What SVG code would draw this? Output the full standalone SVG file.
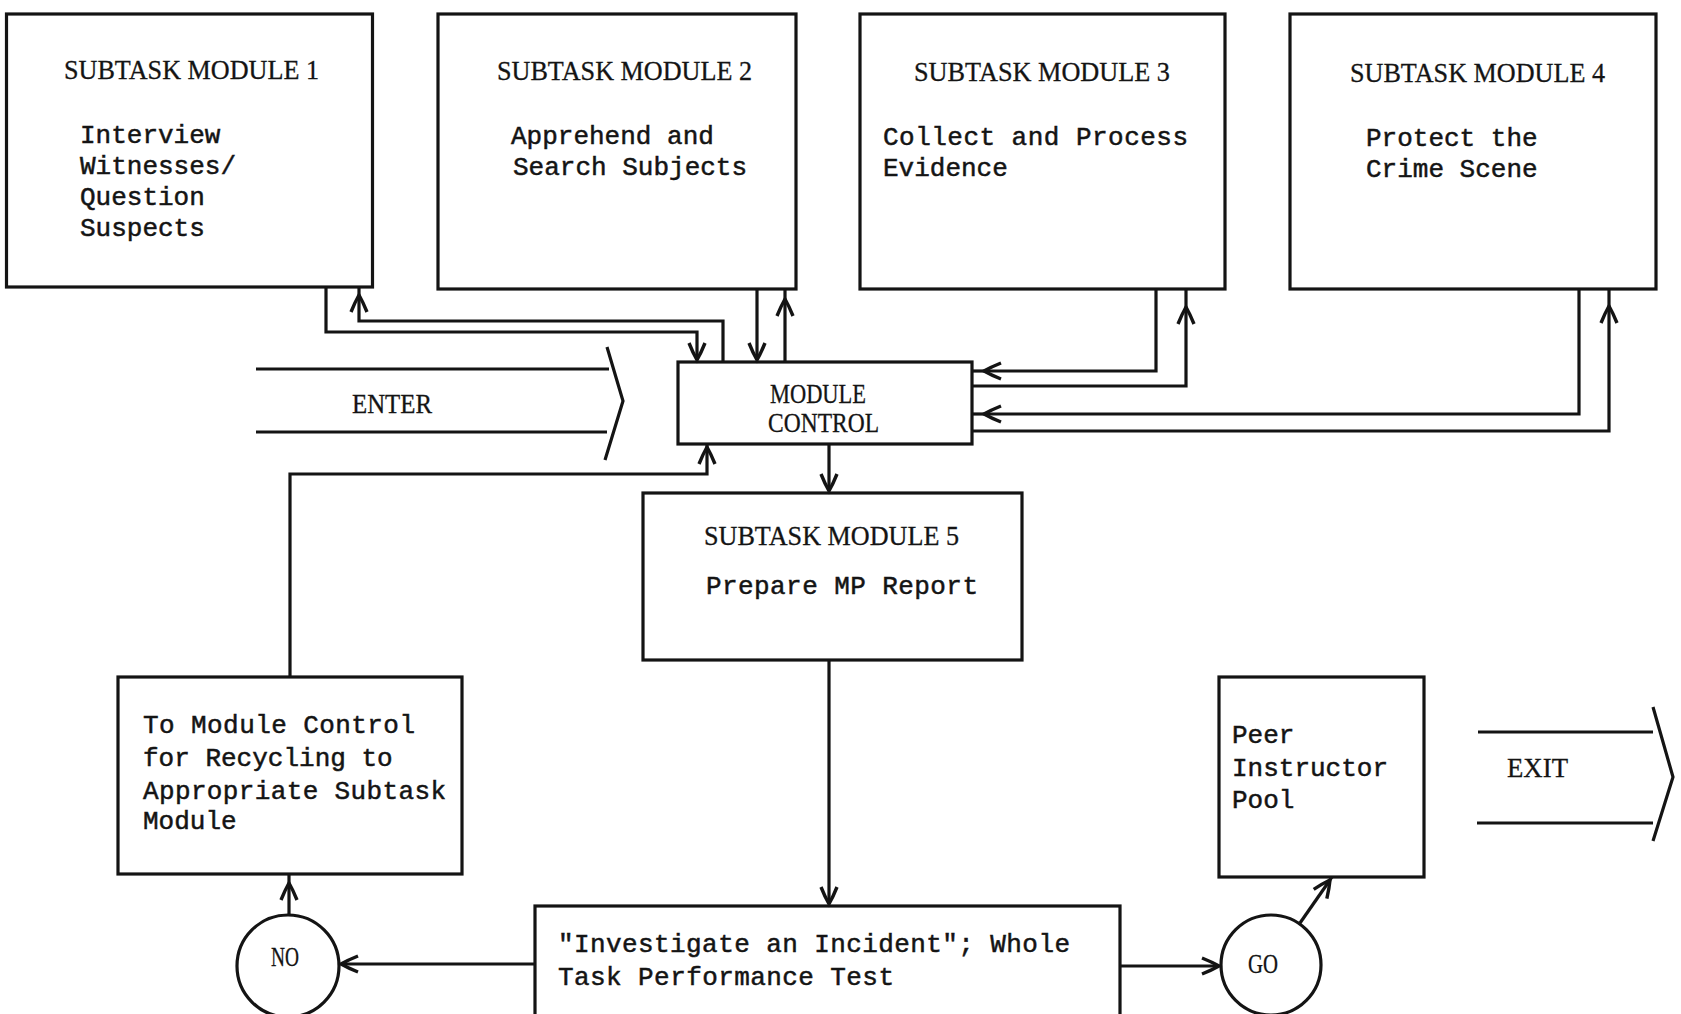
<svg xmlns="http://www.w3.org/2000/svg" width="1681" height="1014" viewBox="0 0 1681 1014">
<defs>
<style>
.box{fill:#fff;stroke:#141414;stroke-width:3.2}
.ln{fill:none;stroke:#141414;stroke-width:3.2;stroke-linejoin:miter}
.tw{font-family:"Liberation Mono","Courier New",monospace;font-size:26px;fill:#141414;stroke:#141414;stroke-width:0.5}
.cs{font-family:"Liberation Serif","Times New Roman",serif;font-size:27px;fill:#141414;stroke:#141414;stroke-width:0.3}
</style>
<marker id="ah" markerUnits="userSpaceOnUse" viewBox="-20 -12 24 24" markerWidth="24" markerHeight="24" refX="0" refY="0" orient="auto" overflow="visible">
<path d="M-17,-8 Q-7,-4 0,0 Q-7,4 -17,8" fill="none" stroke="#141414" stroke-width="3.4"/>
</marker>
</defs>
<rect width="1681" height="1014" fill="#fff"/>

<g id="module1">
<rect class="box" x="6.5" y="14" width="366" height="273"/>
<text class="cs" x="64" y="79" textLength="255" lengthAdjust="spacingAndGlyphs">SUBTASK MODULE 1</text>
<text class="tw" x="80" y="143">Interview</text>
<text class="tw" x="80" y="174">Witnesses/</text>
<text class="tw" x="80" y="205">Question</text>
<text class="tw" x="80" y="236">Suspects</text>
</g>

<g id="module2">
<rect class="box" x="438" y="14" width="358" height="275"/>
<text class="cs" x="497" y="80" textLength="255" lengthAdjust="spacingAndGlyphs">SUBTASK MODULE 2</text>
<text class="tw" x="511" y="144">Apprehend and</text>
<text class="tw" x="513" y="175">Search Subjects</text>
</g>

<g id="module3">
<rect class="box" x="860" y="14" width="365" height="275"/>
<text class="cs" x="914" y="81" textLength="256" lengthAdjust="spacingAndGlyphs">SUBTASK MODULE 3</text>
<text class="tw" x="883" y="145" textLength="305" lengthAdjust="spacing">Collect and Process</text>
<text class="tw" x="883" y="176">Evidence</text>
</g>

<g id="module4">
<rect class="box" x="1290" y="14" width="366" height="275"/>
<text class="cs" x="1350" y="82" textLength="255" lengthAdjust="spacingAndGlyphs">SUBTASK MODULE 4</text>
<text class="tw" x="1366" y="146">Protect the</text>
<text class="tw" x="1366" y="177">Crime Scene</text>
</g>

<g id="module-control">
<rect class="box" x="678" y="362" width="294" height="82"/>
<text class="cs" x="770" y="403" textLength="96" lengthAdjust="spacingAndGlyphs">MODULE</text>
<text class="cs" x="768" y="432" textLength="111" lengthAdjust="spacingAndGlyphs">CONTROL</text>
</g>

<g id="enter">
<path class="ln" d="M256,369 H609 M256,432 H607 M607,347 L623,401 L605,460"/>
<text class="cs" x="352" y="413" textLength="80" lengthAdjust="spacingAndGlyphs">ENTER</text>
</g>

<g id="module5">
<rect class="box" x="643" y="493" width="379" height="167"/>
<text class="cs" x="704" y="545" textLength="255" lengthAdjust="spacingAndGlyphs">SUBTASK MODULE 5</text>
<text class="tw" x="706" y="594" textLength="272" lengthAdjust="spacing">Prepare MP Report</text>
</g>

<g id="recycle">
<rect class="box" x="118" y="677" width="344" height="197"/>
<text class="tw" x="143" y="733" textLength="272" lengthAdjust="spacing">To Module Control</text>
<text class="tw" x="143" y="766">for Recycling to</text>
<text class="tw" x="143" y="799" textLength="303" lengthAdjust="spacing">Appropriate Subtask</text>
<text class="tw" x="143" y="829">Module</text>
</g>

<g id="peer-pool">
<rect class="box" x="1219" y="677" width="205" height="200"/>
<text class="tw" x="1232" y="743">Peer</text>
<text class="tw" x="1232" y="776">Instructor</text>
<text class="tw" x="1232" y="808">Pool</text>
</g>

<g id="exit">
<path class="ln" d="M1478,732 H1653 M1477,823 H1653 M1653,707 L1673,777 L1653,841"/>
<text class="cs" x="1507" y="777" textLength="61" lengthAdjust="spacingAndGlyphs">EXIT</text>
</g>

<g id="test">
<rect class="box" x="535" y="906" width="585" height="130"/>
<text class="tw" x="558" y="952" textLength="512" lengthAdjust="spacing">"Investigate an Incident"; Whole</text>
<text class="tw" x="558" y="985" textLength="336" lengthAdjust="spacing">Task Performance Test</text>
</g>

<g id="no">
<ellipse class="box" cx="288" cy="966" rx="51" ry="51"/>
<text class="cs" x="271" y="966" font-size="24" textLength="28" lengthAdjust="spacingAndGlyphs">NO</text>
</g>

<g id="go">
<circle class="box" cx="1271" cy="965" r="50"/>
<text class="cs" x="1248" y="973" font-size="24" textLength="30" lengthAdjust="spacingAndGlyphs">GO</text>
</g>

<g id="connectors">
<path class="ln" d="M326,287 V332 H697 V360" marker-end="url(#ah)"/>
<path class="ln" d="M723,362 V321 H359 V295" marker-end="url(#ah)"/>
<path class="ln" d="M359,296 V287"/>
<path class="ln" d="M757,289 V360" marker-end="url(#ah)"/>
<path class="ln" d="M785,362 V299" marker-end="url(#ah)"/>
<path class="ln" d="M785,300 V289"/>
<path class="ln" d="M1156,289 V371 H984" marker-end="url(#ah)"/>
<path class="ln" d="M985,371 H972"/>
<path class="ln" d="M972,386 H1186 V307" marker-end="url(#ah)"/>
<path class="ln" d="M1186,308 V289"/>
<path class="ln" d="M1579,289 V414 H984" marker-end="url(#ah)"/>
<path class="ln" d="M985,414 H972"/>
<path class="ln" d="M972,431 H1609 V306" marker-end="url(#ah)"/>
<path class="ln" d="M1609,307 V289"/>
<path class="ln" d="M829,444 V491" marker-end="url(#ah)"/>
<path class="ln" d="M829,660 V904" marker-end="url(#ah)"/>
<path class="ln" d="M535,964 H341" marker-end="url(#ah)"/>
<path class="ln" d="M289,915 V883" marker-end="url(#ah)"/>
<path class="ln" d="M289,884 V874"/>
<path class="ln" d="M290,677 V474 H707 V447" marker-end="url(#ah)"/>
<path class="ln" d="M707,448 V444"/>
<path class="ln" d="M1120,966 H1219" marker-end="url(#ah)"/>
<path class="ln" d="M1300,923 L1330,880" marker-end="url(#ah)"/>
<path class="ln" d="M1329,881 L1332,877"/>
</g>
</svg>
